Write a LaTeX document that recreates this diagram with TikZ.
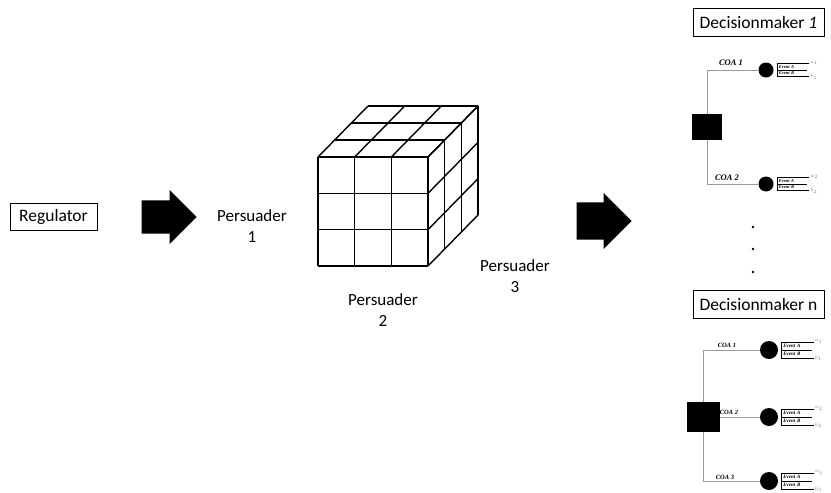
\documentclass[tikz,border=0pt]{standalone}
\usepackage{fontspec}
\setmainfont{Carlito}
\newfontfamily\coafont{Liberation Serif}
\usetikzlibrary{shapes.arrows}

% two outcomes after a chance node: #1 chance node, #2 index
\newcommand{\outcomes}[2]{%
\node [evt,anchor=south west] (#1a) at ([xshift=3pt]#1.east) {Event A};
\node [evt,anchor=north west] (#1b) at ([xshift=3pt]#1.east) {Event B};
\draw [thin] (#1a.north west) -- (#1b.south west);
\draw [thin] (#1a.north west) -- (#1a.north east) node [ab,right,yshift=.5pt] {$a_{#2}$};
\draw [thin] (#1a.south west) -- ([xshift=-2pt]#1a.south east);
\draw [thin] (#1b.south west) -- (#1b.south east) node [ab,right,yshift=-.5pt] {$b_{#2}$};
}

\begin{document}
\begin{tikzpicture}
[x=1pt,y=-1pt]
\tikzset{box/.style={draw,line width=.8pt,font=\fontsize{17.5}{20}\selectfont,inner sep=0pt}}
\tikzset{lbl/.style={align=center,font=\fontsize{17}{21}\selectfont}}
\tikzset{blk/.style={single arrow,fill=black,inner xsep=0pt,minimum height=55,anchor=tip}}
\tikzset{sqr/.style={fill=black,inner sep=0pt}}
\tikzset{chance/.style={circle,fill=black,inner sep=0pt}}
\tikzset{branch/.style={draw=gray!80,line width=.7pt}}
\tikzset{coa/.style={font=\coafont\bfseries\itshape\fontsize{8.5}{9}\selectfont,inner sep=0pt}}
\tikzset{evt/.style={font=\coafont\bfseries\itshape\fontsize{4.5}{5}\selectfont,text width=28pt,inner xsep=2pt,inner ysep=0pt,minimum height=6pt,align=left}}
\tikzset{ab/.style={font=\fontsize{5.5}{6}\selectfont,text=gray,inner sep=1pt}}
\useasboundingbox (0,0) rectangle (831,493);

\node [box,minimum width=87,minimum height=27] (reg) at (53.5,216.5) {Regulator};
\node [blk,inner ysep=11pt,minimum width=54] (ar1) at (197,217) {};
\node [lbl] (p1) at (252,226) {Persuader\\1};
\node [lbl] (p2) at (383,310) {Persuader\\2};
\node [lbl] (p3) at (515,276) {Persuader\\3};
\node [blk,inner ysep=14pt,minimum width=56] (ar2) at (632,221) {};

% cube: front face, top face, right face
\begin{scope}[line width=1.4pt,line join=round]
\foreach \i in {0,1,2,3} {
	\draw (318+110*\i/3,157) -- (318+110*\i/3,266);
	\draw (318,157+109*\i/3) -- (428,157+109*\i/3);
	\draw (318+110*\i/3,157) -- ++(50,-51);
	\draw (318+50*\i/3,157-51*\i/3) -- ++(110,0);
	\draw (428,157+109*\i/3) -- ++(50,-51);
	\draw (428+50*\i/3,157-51*\i/3) -- ++(0,109);
}
\end{scope}

% first decision maker
\node [box,minimum width=131,minimum height=28] (dm1) at (758.5,22) {Decisionmaker \textit{1}};
\node [sqr,minimum width=30,minimum height=26] (d1) at (707,127) {};
\node [chance,minimum size=15] (c11) at (766,70) {};
\node [chance,minimum size=15] (c12) at (766,184) {};
\foreach \to in {c11,c12}
	\draw [branch] (d1) |- (\to);
\node [coa] at (731,63) {COA 1};
\node [coa] at (727,178) {COA 2};
\outcomes{c11}{1}
\outcomes{c12}{2}

\foreach \y [count=\i] in {227,249,272}
	\node [circle,fill=black,inner sep=1pt] (v\i) at (753,\y) {};

% last decision maker
\node [box,minimum width=131,minimum height=28] (dmn) at (758.5,304) {Decisionmaker n};
\node [sqr,minimum width=33,minimum height=30] (dn) at (703,417) {};
\node [chance,minimum size=18] (cn1) at (769,350) {};
\node [chance,minimum size=18] (cn2) at (769,417) {};
\node [chance,minimum size=18] (cn3) at (769,481) {};
\foreach \to in {cn1,cn3}
	\draw [branch] (dn) |- (\to);
\draw [branch] (dn) -- (cn2);
\begin{scope}[coa/.append style={font=\coafont\bfseries\itshape\fontsize{6.5}{7}\selectfont},
	evt/.append style={minimum height=7.5pt,font=\coafont\bfseries\itshape\fontsize{5}{6}\selectfont}]
\node [coa] at (727,345) {COA 1};
\node [coa] at (729,412) {COA 2};
\node [coa] at (725,477) {COA 3};
\outcomes{cn1}{1}
\outcomes{cn2}{2}
\outcomes{cn3}{3}
\end{scope}
\end{tikzpicture}
\end{document}
